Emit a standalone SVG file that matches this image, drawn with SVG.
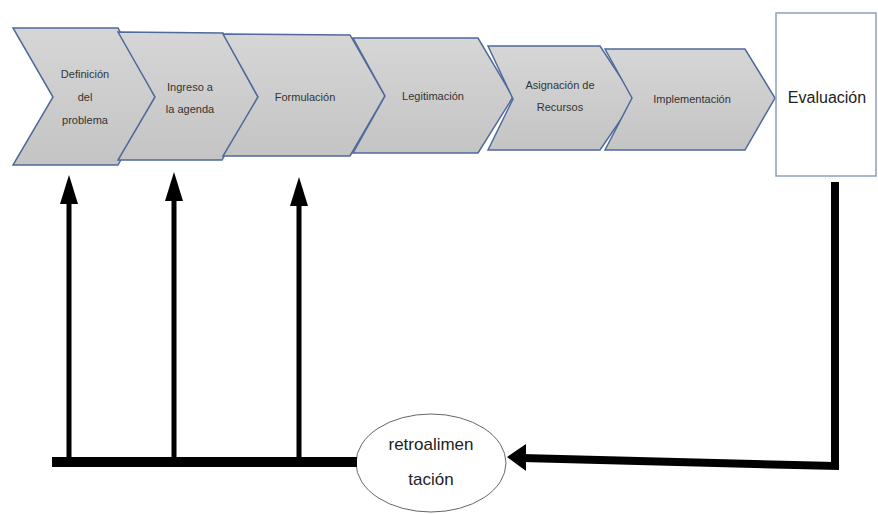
<svg xmlns="http://www.w3.org/2000/svg" width="878" height="514" viewBox="0 0 878 514">
  <defs>
    <linearGradient id="g" x1="0" y1="0" x2="0" y2="1">
      <stop offset="0" stop-color="#d6d6d6"/>
      <stop offset="1" stop-color="#c4c4c4"/>
    </linearGradient>
  </defs>
  <style>
    .chev { fill: url(#g); stroke: #4f6a9a; stroke-width: 1.5; stroke-linejoin: miter; }
    .lbl { font-family: "Liberation Sans", Arial, sans-serif; font-size: 11px; fill: #333; text-anchor: middle; }
    .big { font-family: "Liberation Sans", Arial, sans-serif; fill: #222; text-anchor: middle; }
    .ln { stroke: #000; fill: none; }
    .head { fill: #000; }
  </style>
  <rect width="878" height="514" fill="#fff"/>

  <g id="n-definicion">
    <polygon class="chev" points="13,28 118,28 155,97 118,165 13,165 53,97"/>
    <text class="lbl" x="85" y="78">Definición</text>
    <text class="lbl" x="85" y="101">del</text>
    <text class="lbl" x="85" y="124">problema</text>
  </g>
  <g id="n-ingreso">
    <polygon class="chev" points="118,32 223,33 258,97 222,160 118,160 155,97"/>
    <text class="lbl" x="190" y="91">Ingreso a</text>
    <text class="lbl" x="190" y="113">la agenda</text>
  </g>
  <g id="n-formulacion">
    <polygon class="chev" points="223,34 350,35 385,96 350,156 223,156 258,97"/>
    <text class="lbl" x="305" y="101">Formulación</text>
  </g>
  <g id="n-legitimacion">
    <polygon class="chev" points="353,38 478,38 513,97 478,153 353,153 385,96"/>
    <text class="lbl" x="433" y="100">Legitimación</text>
  </g>
  <g id="n-asignacion">
    <polygon class="chev" points="488,46 600,46 635,99 600,150 488,150 513,99"/>
    <text class="lbl" x="560" y="89">Asignación de</text>
    <text class="lbl" x="560" y="111">Recursos</text>
  </g>
  <g id="n-implementacion">
    <polygon class="chev" points="605,49 745,49 775,98 745,150 605,150 632,98"/>
    <text class="lbl" x="692" y="103">Implementación</text>
  </g>
  <g id="n-evaluacion">
    <rect x="776" y="13" width="100" height="163" fill="#fff" stroke="#8d9fbd" stroke-width="1.5"/>
    <text class="big" x="827" y="103" font-size="16">Evaluación</text>
  </g>
  <g id="n-retro">
    <ellipse cx="431" cy="463" rx="75" ry="49" fill="#fff" stroke="#666" stroke-width="1"/>
    <text class="big" x="431" y="450" font-size="17">retroalimen</text>
    <text class="big" x="431" y="485" font-size="17">tación</text>
  </g>

  <g id="connectors">
    <line class="ln" x1="52" y1="462" x2="357" y2="462" stroke-width="10"/>
    <line class="ln" x1="69" y1="466" x2="69" y2="200" stroke-width="5"/>
    <polygon class="head" points="69,175 78,204 60,204"/>
    <line class="ln" x1="174" y1="466" x2="174" y2="197" stroke-width="5"/>
    <polygon class="head" points="174,172 183,201 165,201"/>
    <line class="ln" x1="299" y1="466" x2="299" y2="202" stroke-width="5"/>
    <polygon class="head" points="299,177 308,206 290,206"/>
    <polyline class="ln" points="835,182 835,466 522,458" stroke-width="8" stroke-linejoin="miter"/>
    <polygon class="head" points="507,457 526,444 526,471"/>
  </g>
</svg>
